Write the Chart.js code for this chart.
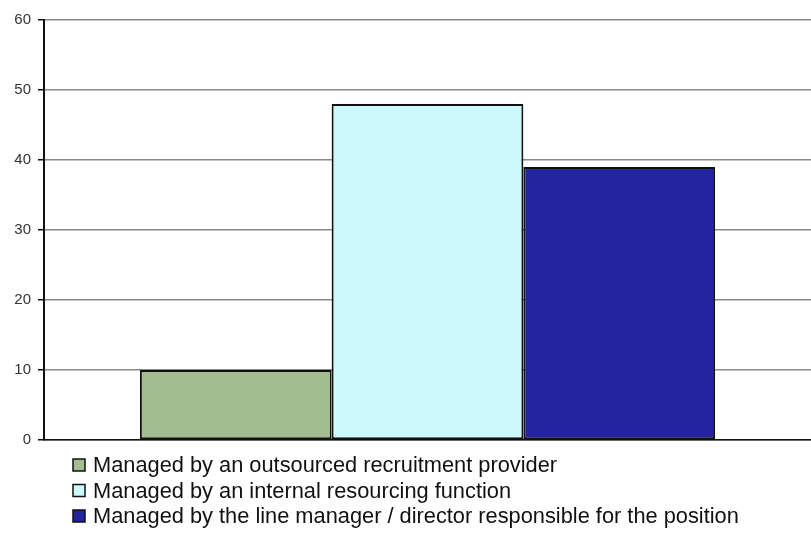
<!DOCTYPE html>
<html>
<head>
<meta charset="utf-8">
<script src="https://cdn.jsdelivr.net/npm/chart.js@4/dist/chart.umd.min.js"></script>
<style>
  html, body { margin: 0; padding: 0; background: #ffffff; }
  #wrap { width: 811px; height: 540px; position: relative; }
</style>
</head>
<body>
<div id="wrap"><canvas id="c" width="811" height="540"></canvas></div>
<script>
// Survey answers: who manages the recruitment process (percent of respondents)
const categories = [''];
const seriesLabels = [
  'Managed by an outsourced recruitment provider',
  'Managed by an internal resourcing function',
  'Managed by the line manager / director responsible for the position'
];
const seriesValues = [10, 48, 39];
const seriesColors = ['#a2bd90', '#ccf9fb', '#2424a0'];
const yTicks = [0, 10, 20, 30, 40, 50, 60];

const FONT = '"Liberation Sans", Arial, sans-serif';

// Legend listed vertically under the plot, one entry per line
const stackedLegend = {
  id: 'stackedLegend',
  afterDraw(chart) {
    const ctx = chart.ctx;
    ctx.save();
    ctx.font = '21.8px ' + FONT;
    ctx.textBaseline = 'middle';
    chart.data.datasets.forEach((ds, i) => {
      const cy = 465 + i * 25.5;
      const bx = 73, size = 12;
      ctx.fillStyle = ds.backgroundColor;
      ctx.fillRect(bx, cy - size / 2, size, size);
      ctx.lineWidth = 1.5;
      ctx.strokeStyle = '#111111';
      ctx.strokeRect(bx, cy - size / 2, size, size);
      ctx.fillStyle = '#111111';
      ctx.fillText(ds.label, 93, cy + 1);
    });
    ctx.restore();
  }
};

const datasets = seriesLabels.map((label, i) => ({
  label: label,
  data: [seriesValues[i]],
  backgroundColor: seriesColors[i],
  borderColor: '#111111',
  borderWidth: 2,
  borderSkipped: false,
  categoryPercentage: 0.75,
  barPercentage: 1.0
}));

new Chart(document.getElementById('c'), {
  type: 'bar',
  data: { labels: categories, datasets: datasets },
  plugins: [stackedLegend],
  options: {
    responsive: false,
    animation: false,
    layout: { padding: { top: 20, right: 0, bottom: 100, left: 0 } },
    plugins: {
      legend: { display: false },
      tooltip: { enabled: false }
    },
    scales: {
      x: {
        grid: { display: false, drawTicks: false },
        border: { display: true, color: '#111111', width: 1.5 },
        ticks: { display: false },
        afterFit(scale) { scale.height = 0; }
      },
      y: {
        min: 0,
        max: 60,
        afterBuildTicks(scale) { scale.ticks = yTicks.map(v => ({ value: v })); },
        grid: {
          color: '#8a8a8a',
          lineWidth: 1.5,
          tickColor: '#111111',
          tickLength: 6,
          drawOnChartArea: true
        },
        border: { display: true, color: '#111111', width: 2 },
        ticks: {
          color: '#333333',
          padding: 7,
          font: { family: FONT, size: 15 }
        },
        afterFit(scale) { scale.width = 44; }
      }
    }
  }
});
</script>
</body>
</html>
